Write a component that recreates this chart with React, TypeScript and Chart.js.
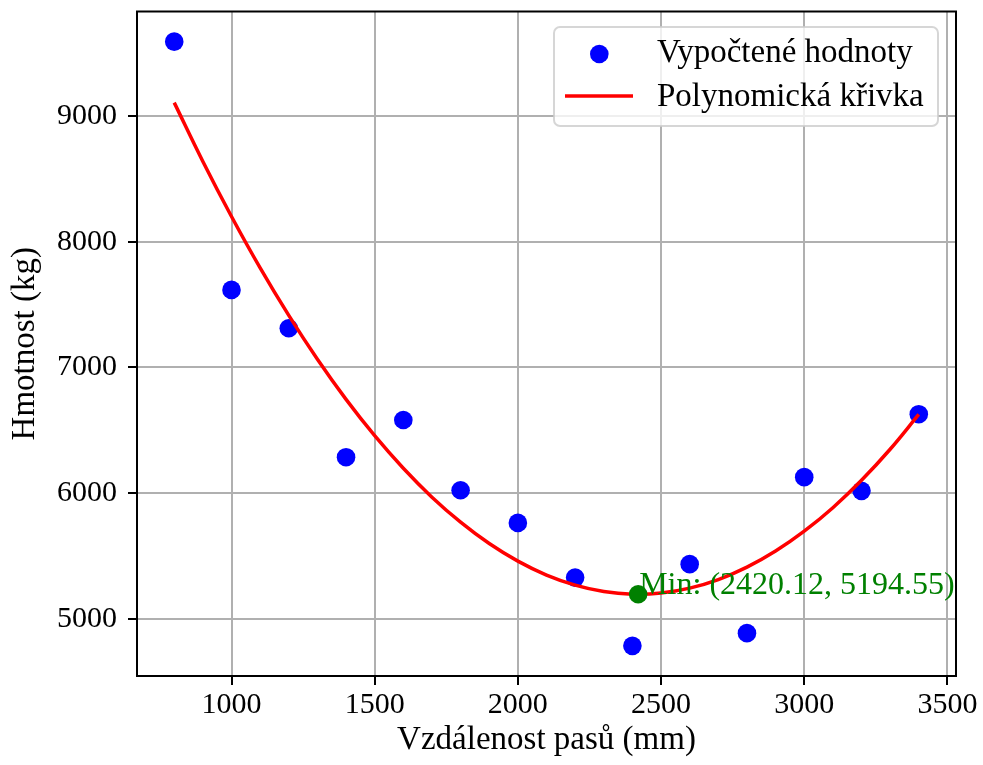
import React, { useEffect, useRef } from "react";
import { Chart, registerables } from "chart.js";

Chart.register(...registerables);

// ---- data ----
const distances = [800, 1000, 1200, 1400, 1600, 1800, 2000, 2200, 2400, 2600, 2800, 3000, 3200, 3400];
const masses = [9591, 7616, 7311, 6285, 6581, 6022, 5762, 5327, 4784, 5434, 4885, 6126, 6017, 6627];

const curveX = [800, 900, 1000, 1100, 1200, 1300, 1400, 1500, 1600, 1700, 1800, 1900, 2000, 2100, 2200, 2300, 2400, 2500, 2600, 2700, 2800, 2900, 3000, 3100, 3200, 3300, 3400];
const curveY = [9106, 8638, 8200, 7791, 7413, 7064, 6745, 6456, 6197, 5967, 5768, 5598, 5458, 5347, 5267, 5216, 5195, 5204, 5243, 5311, 5410, 5538, 5696, 5883, 6101, 6348, 6625];

const minX = [2420.12];
const minY = [5194.55];
const minLabel = "Min: (2420.12, 5194.55)";

const xTicks = [1000, 1500, 2000, 2500, 3000, 3500];
const yTicks = [5000, 6000, 7000, 8000, 9000];

const legendLabels = ["Vypočtené hodnoty", "Polynomická křivka"];
const xTitle = "Vzdálenost pasů (mm)";
const yTitle = "Hmotnost (kg)";

const FONT = '"Liberation Serif", "Times New Roman", serif';

const overlayPlugin = {
  id: "overlay",
  afterDraw(chart: any) {
    const { ctx, chartArea: a, scales } = chart;
    ctx.save();
    // spines
    ctx.strokeStyle = "#000";
    ctx.lineWidth = 2;
    ctx.strokeRect(a.left, a.top, a.right - a.left, a.bottom - a.top);

    // min annotation
    const px = scales.x.getPixelForValue(minX[0]);
    const py = scales.y.getPixelForValue(minY[0]);
    ctx.font = `32px ${FONT}`;
    ctx.fillStyle = "#008000";
    ctx.textAlign = "left";
    ctx.textBaseline = "alphabetic";
    ctx.fillText(minLabel, px + 1, py);

    // legend
    const bx = a.right - 402;
    const by = a.top + 15.5;
    const bw = 384;
    const bh = 99;
    ctx.beginPath();
    ctx.roundRect(bx, by, bw, bh, 6);
    ctx.fillStyle = "rgba(255,255,255,0.8)";
    ctx.fill();
    ctx.strokeStyle = "rgba(204,204,204,0.8)";
    ctx.lineWidth = 2;
    ctx.stroke();

    ctx.beginPath();
    ctx.arc(bx + 45.3, by + 27, 9.3, 0, Math.PI * 2);
    ctx.fillStyle = "#0000ff";
    ctx.fill();

    ctx.beginPath();
    ctx.moveTo(bx + 11, by + 69);
    ctx.lineTo(bx + 79, by + 69);
    ctx.strokeStyle = "#ff0000";
    ctx.lineWidth = 3.5;
    ctx.stroke();

    ctx.font = `33px ${FONT}`;
    ctx.fillStyle = "#000";
    ctx.fillText(legendLabels[0], bx + 103, by + 35);
    ctx.fillText(legendLabels[1], bx + 103, by + 79);
    ctx.restore();
  },
};

export default function App() {
  const canvasRef = useRef<HTMLCanvasElement | null>(null);

  useEffect(() => {
    const canvas = canvasRef.current;
    if (!canvas) return;
    const chart = new Chart(canvas, {
      type: "scatter",
      data: {
        datasets: [
          {
            label: "Min",
            data: minX.map((x, i) => ({ x, y: minY[i] })),
            backgroundColor: "#008000",
            borderWidth: 0,
            pointRadius: 9.3,
            order: 0,
          },
          {
            label: legendLabels[1],
            data: curveX.map((x, i) => ({ x, y: curveY[i] })),
            showLine: true,
            borderColor: "#ff0000",
            borderWidth: 3.5,
            pointRadius: 0,
            tension: 0.4,
            order: 1,
          },
          {
            label: legendLabels[0],
            data: distances.map((x, i) => ({ x, y: masses[i] })),
            backgroundColor: "#0000ff",
            borderWidth: 0,
            pointRadius: 9.3,
            order: 2,
          },
        ],
      },
      options: {
        responsive: false,
        animation: false,
        events: [],
        layout: { padding: { top: 11.5, right: 27, left: 0, bottom: 0 } },
        plugins: {
          legend: { display: false },
          tooltip: { enabled: false },
        },
        scales: {
          x: {
            type: "linear",
            min: 670,
            max: 3530,
            z: 1,
            afterFit: (s: any) => {
              s.height = 89;
              s.paddingLeft = 0;
              s.paddingRight = 0;
              s.paddingTop = 0;
              s.paddingBottom = 0;
            },
            afterBuildTicks: (s: any) => {
              s.ticks = xTicks.map((v) => ({ value: v }));
            },
            border: { display: false },
            grid: {
              color: "#b0b0b0",
              lineWidth: 2,
              tickColor: "#000",
              tickWidth: 2,
              tickLength: 9,
            },
            ticks: {
              color: "#000",
              font: { family: FONT, size: 30 },
              padding: 2,
              maxRotation: 0,
              callback: (v: any) => String(v),
            },
            title: {
              display: true,
              text: xTitle,
              color: "#000",
              font: { family: FONT, size: 33 },
              padding: { top: 0, bottom: 5 },
            },
          },
          y: {
            type: "linear",
            min: 4544,
            max: 9831,
            z: 1,
            afterFit: (s: any) => {
              s.width = 137;
              s.paddingLeft = 0;
              s.paddingRight = 0;
              s.paddingTop = 0;
              s.paddingBottom = 0;
            },
            afterBuildTicks: (s: any) => {
              s.ticks = yTicks.map((v) => ({ value: v }));
            },
            border: { display: false },
            grid: {
              color: "#b0b0b0",
              lineWidth: 2,
              tickColor: "#000",
              tickWidth: 2,
              tickLength: 9,
            },
            ticks: {
              color: "#000",
              font: { family: FONT, size: 30 },
              padding: 11,
              callback: (v: any) => String(v),
            },
            title: {
              display: true,
              text: yTitle,
              color: "#000",
              font: { family: FONT, size: 33 },
              padding: { top: 6, bottom: 0 },
            },
          },
        },
      },
      plugins: [overlayPlugin],
    } as any);
    return () => chart.destroy();
  }, []);

  return (
    <div style={{ position: "absolute", left: 0, top: 0, width: 983, height: 765, background: "#fff" }}>
      <canvas ref={canvasRef} width={983} height={765} style={{ display: "block" }} />
    </div>
  );
}
